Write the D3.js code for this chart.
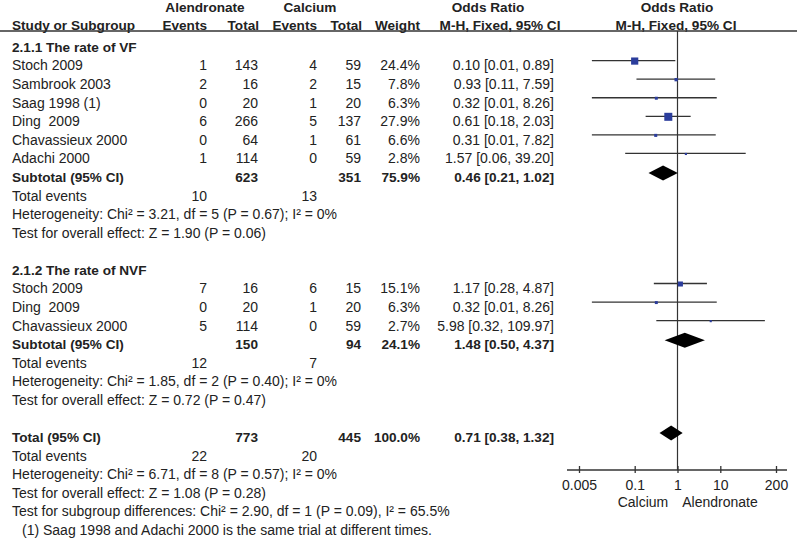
<!DOCTYPE html>
<html><head><meta charset="utf-8">
<script src="https://cdn.jsdelivr.net/npm/d3@7"></script>
<style>
html,body{margin:0;padding:0;background:#fff;}
text{font-family:"Liberation Sans",Arial,sans-serif;fill:#222;white-space:pre;}
</style></head>
<body>
<svg id="c" width="800" height="538"></svg>
<script>
// ---- data ----
const vfStudies = ["Stoch 2009","Sambrook 2003","Saag 1998 (1)","Ding  2009","Chavassieux 2000","Adachi 2000"];
const vfEventsA = [1,2,0,6,0,1];
const vfTotalA  = [143,16,20,266,64,114];
const vfEventsC = [4,2,1,5,1,0];
const vfTotalC  = [59,15,20,137,61,59];
const vfWeight  = [24.4,7.8,6.3,27.9,6.6,2.8];
const vfOR      = [0.10,0.93,0.32,0.61,0.31,1.57];
const vfLo      = [0.01,0.11,0.01,0.18,0.01,0.06];
const vfHi      = [0.89,7.59,8.26,2.03,7.82,39.20];

const nvfStudies = ["Stoch 2009","Ding  2009","Chavassieux 2000"];
const nvfEventsA = [7,0,5];
const nvfTotalA  = [16,20,114];
const nvfEventsC = [6,1,0];
const nvfTotalC  = [15,20,59];
const nvfWeight  = [15.1,6.3,2.7];
const nvfOR      = [1.17,0.32,5.98];
const nvfLo      = [0.28,0.01,0.32];
const nvfHi      = [4.87,8.26,109.97];

// subtotals: [totalA, totalC, weight, OR, lo, hi, eventsA, eventsC]
const vfSubtotal  = [623,351,75.9,0.46,0.21,1.02,10,13];
const nvfSubtotal = [150,94,24.1,1.48,0.50,4.37,12,7];
const overall     = [773,445,100.0,0.71,0.38,1.32,22,20];

const groupTitles = ["2.1.1 The rate of VF","2.1.2 The rate of NVF"];
const vfHet  = "Heterogeneity: Chi² = 3.21, df = 5 (P = 0.67); I² = 0%";
const vfZ    = "Test for overall effect: Z = 1.90 (P = 0.06)";
const nvfHet = "Heterogeneity: Chi² = 1.85, df = 2 (P = 0.40); I² = 0%";
const nvfZ   = "Test for overall effect: Z = 0.72 (P = 0.47)";
const totHet = "Heterogeneity: Chi² = 6.71, df = 8 (P = 0.57); I² = 0%";
const totZ   = "Test for overall effect: Z = 1.08 (P = 0.28)";
const subDiff = "Test for subgroup differences: Chi² = 2.90, df = 1 (P = 0.09), I² = 65.5%";
const footnote = "(1) Saag 1998 and Adachi 2000 is the same trial at different times.";

const axisTicks = [0.005,0.1,1,10,200];
const axisTickLabels = ["0.005","0.1","1","10","200"];
const favourLeft = "Calcium", favourRight = "Alendronate";

// ---- layout ----
const svg = d3.select("#c");
const FS = 14, FSB = 13.6;
const y = d3.scaleLinear().domain([0,26]).range([47,530]);
const x = d3.scaleLog().domain([0.005,200]).range([579,776]);
const sq = d3.scaleLinear().domain([0,30]).range([1.5,8.5]);
const col = {evA:207, totA:258, evC:317, totC:361, w:420, or:554};
const fmtOR = (o,l,h)=>`${o.toFixed(2)} [${l.toFixed(2)}, ${h.toFixed(2)}]`;
const lineCol = "#333";

function txt(xp, yc, s, anchor="start", bold=false){
  svg.append("text").attr("x",xp).attr("y",yc).attr("dy","0.35em")
    .attr("text-anchor",anchor).attr("font-size",bold?FSB:FS)
    .attr("font-weight",bold?"bold":"normal").text(s);
}

// header
txt(205, 7, "Alendronate","middle",true);
txt(310, 7, "Calcium","middle",true);
txt(488, 7, "Odds Ratio","middle",true);
txt(677, 7, "Odds Ratio","middle",true);
txt(12, 25, "Study or Subgroup","start",true);
txt(207, 25, "Events","end",true);
txt(259, 25, "Total","end",true);
txt(317, 25, "Events","end",true);
txt(362, 25, "Total","end",true);
txt(420, 25, "Weight","end",true);
txt(500, 25, "M-H, Fixed, 95% CI","middle",true);
txt(676, 25, "M-H, Fixed, 95% CI","middle",true);
svg.append("line").attr("x1",0).attr("x2",797).attr("y1",31).attr("y2",31)
  .attr("stroke",lineCol).attr("stroke-width",1.4);

// vertical line of no effect
svg.append("line").attr("x1",x(1)).attr("x2",x(1)).attr("y1",31).attr("y2",470)
  .attr("stroke",lineCol).attr("stroke-width",1.2);

function studies(names,eA,tA,eC,tC,w,or,lo,hi,startRow){
  names.forEach((n,i)=>{
    const r = y(startRow+i);
    txt(12,r,n);
    txt(col.evA,r,String(eA[i]),"end");
    txt(col.totA,r,String(tA[i]),"end");
    txt(col.evC,r,String(eC[i]),"end");
    txt(col.totC,r,String(tC[i]),"end");
    txt(col.w,r,w[i].toFixed(1)+"%","end");
    txt(col.or,r,fmtOR(or[i],lo[i],hi[i]),"end");
    const ly = r-5;
    svg.append("line").attr("x1",x(lo[i])).attr("x2",x(hi[i])).attr("y1",ly).attr("y2",ly)
      .attr("stroke",lineCol).attr("stroke-width",1.3);
    const s = sq(w[i]);
    svg.append("rect").attr("x",x(or[i])-s/2).attr("y",ly-s/2+0.5).attr("width",s).attr("height",s)
      .attr("fill","#2b3d9c");
  });
}
function diamond(row, sub){
  const cy = y(row)-4;
  const pts = [[x(sub[4]),cy],[x(sub[3]),cy-7.5],[x(sub[5]),cy],[x(sub[3]),cy+7.5]];
  svg.append("path").attr("d","M"+pts.map(p=>p.join(",")).join("L")+"Z").attr("fill","#000");
}
function subtotalRow(row, label, sub){
  const r = y(row);
  txt(12,r,label,"start",true);
  txt(col.totA,r,String(sub[0]),"end",true);
  txt(col.totC,r,String(sub[1]),"end",true);
  txt(col.w,r,sub[2].toFixed(1)+"%","end",true);
  txt(col.or,r,fmtOR(sub[3],sub[4],sub[5]),"end",true);
  diamond(row, sub);
}
function eventsRow(row, sub){
  const r = y(row);
  txt(12,r,"Total events");
  txt(col.evA,r,String(sub[6]),"end");
  txt(col.evC,r,String(sub[7]),"end");
}

// group 1
txt(12,y(0),groupTitles[0],"start",true);
studies(vfStudies,vfEventsA,vfTotalA,vfEventsC,vfTotalC,vfWeight,vfOR,vfLo,vfHi,1);
subtotalRow(7,"Subtotal (95% CI)",vfSubtotal);
eventsRow(8,vfSubtotal);
txt(12,y(9),vfHet);
txt(12,y(10),vfZ);

// group 2
txt(12,y(12),groupTitles[1],"start",true);
studies(nvfStudies,nvfEventsA,nvfTotalA,nvfEventsC,nvfTotalC,nvfWeight,nvfOR,nvfLo,nvfHi,13);
subtotalRow(16,"Subtotal (95% CI)",nvfSubtotal);
eventsRow(17,nvfSubtotal);
txt(12,y(18),nvfHet);
txt(12,y(19),nvfZ);

// total
subtotalRow(21,"Total (95% CI)",overall);
eventsRow(22,overall);
txt(12,y(23),totHet);
txt(12,y(24),totZ);
txt(12,y(25),subDiff);
txt(22,y(26),footnote);

// axis
const ax = svg.append("g").attr("transform","translate(0,470)");
ax.append("line").attr("x1",x.range()[0]-12).attr("x2",x.range()[1]+11)
  .attr("stroke",lineCol).attr("stroke-width",1.3);
ax.call(d3.axisBottom(x).tickValues(axisTicks).tickSize(3)
    .tickFormat((d,i)=>axisTickLabels[i]))
  .call(g=>g.select(".domain").remove())
  .call(g=>g.selectAll(".tick line").attr("y1",-4).attr("y2",3).attr("stroke",lineCol).attr("stroke-width",1.3))
  .call(g=>g.selectAll(".tick text").attr("y",15).attr("dy","0.35em")
        .attr("font-size",FS).attr("font-family","Liberation Sans, Arial, sans-serif").attr("fill","#222"));
txt(643, 502, favourLeft, "middle");
txt(720, 502, favourRight, "middle");
</script>
</body></html>
